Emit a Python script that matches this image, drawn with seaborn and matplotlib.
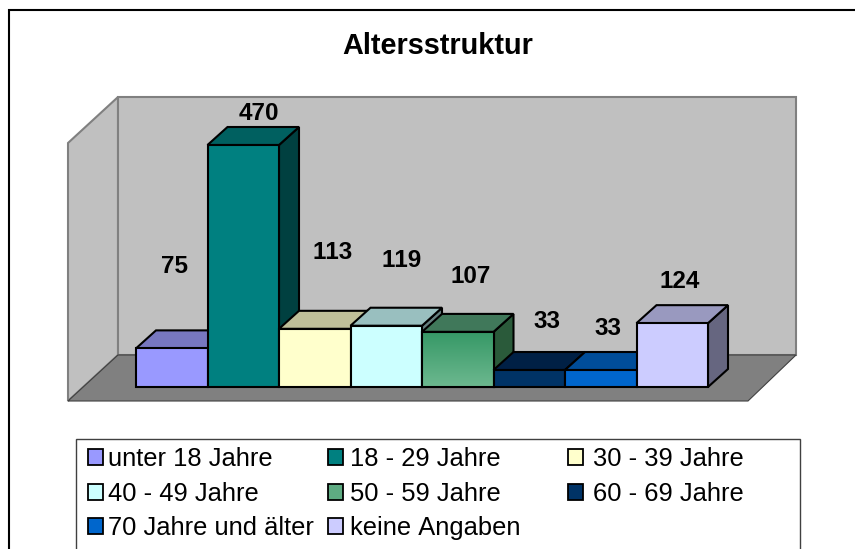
import matplotlib
matplotlib.use("Agg")
import matplotlib.pyplot as plt
import numpy as np
import seaborn as sns
from matplotlib.colors import LinearSegmentedColormap
from matplotlib.patches import Patch, Polygon, Rectangle

CATEGORIES = [
    "unter 18 Jahre",
    "18 - 29 Jahre",
    "30 - 39 Jahre",
    "40 - 49 Jahre",
    "50 - 59 Jahre",
    "60 - 69 Jahre",
    "70 Jahre und älter",
    "keine Angaben",
]
VALUES = [75, 470, 113, 119, 107, 33, 33, 124]

FRONT = ["#9999ff", "#008080", "#ffffcc", "#ccffff", "#3a9a68", "#003366", "#0066cc", "#ccccff"]
TOP = ["#7777c0", "#006060", "#bfbf99", "#99bfbf", "#40785a", "#002045", "#004d99", "#9999bf"]
SIDE = ["#4d4d80", "#004040", "#808066", "#668080", "#2a5a3a", "#001a33", "#003366", "#666680"]
LEGEND_COLORS = FRONT[:4] + ["#5eab82"] + FRONT[5:]

# pixel nudges of the value labels, the original has them all over the place
LABEL_OFFSETS = [(3, 82), (16, 32), (18, 76), (15, 65), (13, 55), (18, 49), (7, 42), (7, 42)]

W, H = 855, 549
sns.set_style("white")
plt.rcParams["font.family"] = ["Liberation Sans", "DejaVu Sans"]
plt.rcParams["text.color"] = "black"
plt.rcParams["text.kerning_factor"] = 6

fig = plt.figure(figsize=(W / 100, H / 100), dpi=100)

# background layer in pixels: frame, walls, floor, legend box
bg = fig.add_axes([0, 0, 1, 1], zorder=0)
bg.set_xlim(0, W)
bg.set_ylim(H, 0)
bg.axis("off")
bg.plot([8.5, 8.5, W], [H, 10, 10], color="black", lw=1.5, solid_joinstyle="miter")
bg.add_patch(Polygon([(68, 143), (118, 97), (118, 355), (68, 401)], fc="#c0c0c0", ec="#808080", lw=1.5))
bg.add_patch(Polygon([(118, 97), (796, 97), (796, 355), (118, 355)], fc="#c0c0c0", ec="#808080", lw=1.5))
bg.add_patch(Polygon([(68, 401), (118, 355), (796, 355), (748, 401)], fc="#808080", ec="#404040", lw=0.8))
bg.add_patch(Rectangle((76, 439), 724, 120, fc="white", ec="#404040", lw=1))
bg.text(438, 46, "Altersstruktur", ha="center", va="center", fontsize=20.8, fontweight="bold")

# bars
ax = fig.add_axes([136 / W, (H - 387) / H, (708 - 136) / W, (387 - 145) / H], zorder=1)
sns.barplot(
    x=CATEGORIES, y=VALUES, hue=CATEGORIES, palette=FRONT, dodge=False, width=1,
    saturation=1, edgecolor="black", linewidth=1.5, legend=False, ax=ax,
)
ax.axis("off")

dx = 20 / ((708 - 136) / len(VALUES))
dy = 18 / ((387 - 145) / max(VALUES))

for i, (bar, value) in enumerate(zip(list(ax.patches), VALUES)):
    left, right = bar.get_x(), bar.get_x() + bar.get_width()
    side = [(right, 0), (right + dx, dy), (right + dx, value + dy), (right, value)]
    top = [(left, value), (left + dx, value + dy), (right + dx, value + dy), (right, value)]
    ax.add_patch(Polygon(side, fc=SIDE[i], ec="black", lw=1.5, clip_on=False, zorder=10 * i + 1))
    ax.add_patch(Polygon(top, fc=TOP[i], ec="black", lw=1.5, clip_on=False, zorder=10 * i + 2))
    bar.set_clip_on(False)
    bar.set_zorder(10 * i + 3)
    ax.annotate(
        str(value), (bar.get_x() + 0.5, value), xytext=LABEL_OFFSETS[i], textcoords="offset pixels",
        ha="center", va="center", fontsize=17.5, fontweight="bold", zorder=200, annotation_clip=False,
    )

# the 50-59 bar fades out towards the floor
green = ax.patches[4]
gradient = np.linspace(0, 1, 64).reshape(-1, 1)
cmap = LinearSegmentedColormap.from_list("g", ["#359866", "#6db88f"])
img = ax.imshow(
    gradient, cmap=cmap, aspect="auto", zorder=10 * 4 + 3.5,
    extent=(green.get_x(), green.get_x() + 1, 0, VALUES[4]),
)
img.set_clip_path(green)
ax.add_patch(Rectangle((green.get_x(), 0), 1, VALUES[4], fc="none", ec="black", lw=1.5, clip_on=False, zorder=10 * 4 + 4))

ax.set_xlim(-0.5, 7.5)
ax.set_ylim(0, max(VALUES))

# three legends, the columns in the original sit on an even grid
for col, x0 in enumerate([88, 328, 568]):
    idx = [[0, 3, 6], [1, 4, 7], [2, 5]][col]
    handles = [Patch(fc=LEGEND_COLORS[j], ec="black", lw=1.3) for j in idx]
    fig.legend(
        handles, [CATEGORIES[j] for j in idx], loc="upper left",
        bbox_to_anchor=(x0 / W, 1 - 447 / H), borderaxespad=0, borderpad=0,
        frameon=False, fontsize=18.4, labelspacing=0.42, handlelength=0.58, handleheight=0.58,
        handletextpad=[0.22, 0.30, 0.38][col],
    )

fig.savefig("out.png", dpi=100)
